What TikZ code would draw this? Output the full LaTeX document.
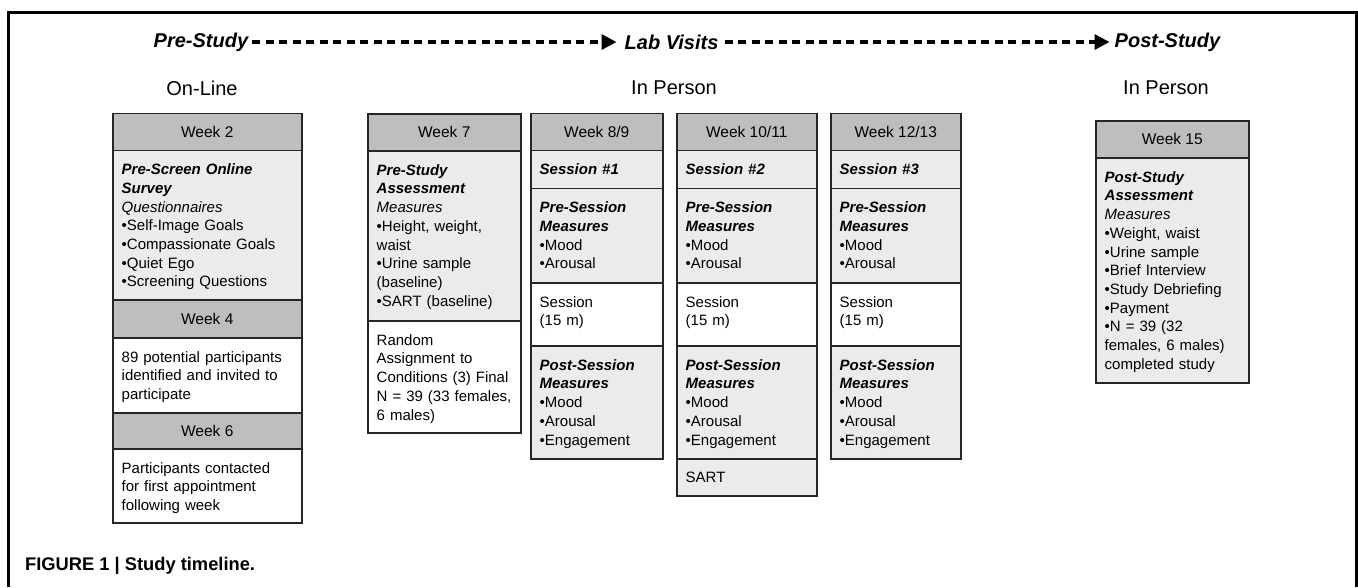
\documentclass[tikz,border=0pt]{standalone}
\usepackage{fontspec}
\setmainfont{Liberation Sans}
\usetikzlibrary{arrows.meta}
\definecolor{hdr}{HTML}{BEBEBE}
\definecolor{lite}{HTML}{EBEBEB}
\definecolor{edgec}{HTML}{262626}
\newcommand\bitx[1]{{\bfseries\itshape #1}}
\newcommand\itx[1]{{\itshape #1}}
\tikzset{
  cellbase/.style={draw=edgec, line width=1.5pt, inner sep=0pt, anchor=north west},
  hcell/.style={cellbase, fill=hdr},
  gcell/.style={cellbase, fill=lite},
  wcell/.style={cellbase, fill=white},
  btext/.style={inner sep=0pt, anchor=north west, align=left, text width=220pt,
    font=\fontsize{15}{18.7}\selectfont},
  htext/.style={inner sep=0pt, anchor=center, font=\fontsize{15.5}{18}\selectfont},
  phase/.style={inner sep=0pt, anchor=west, font=\fontsize{20}{24}\selectfont\bfseries\itshape},
  mode/.style={inner sep=0pt, anchor=center, font=\fontsize{20}{24}\selectfont},
  flow/.style={line width=3.4pt, dash pattern=on 8pt off 5.5pt, -{Triangle[length=15pt,width=15pt]}},
}
\newcommand\cellat[6]{%
  \pgfmathsetmacro\cw{#4-#2}\pgfmathsetmacro\ch{#5-#3}%
  \node[#6, minimum width=\cw pt, minimum height=\ch pt] (#1) at (#2,#3) {};}
\newcommand\htx[3]{\node[htext] (#1) at (#2.center) {#3};}
\newcommand\btx[3]{\node[btext] (#1) at ([xshift=9.5pt,yshift=-14.2pt]#2.north west) {#3};}
\newcommand\sesscol[5]{%
  \cellat{#1h}{#2}{112.5}{#3}{149.5}{hcell}
  \cellat{#1s}{#2}{149.5}{#3}{187.5}{gcell}
  \cellat{#1p}{#2}{187.5}{#3}{282}{gcell}
  \cellat{#1m}{#2}{282}{#3}{345}{wcell}
  \cellat{#1q}{#2}{345}{#3}{458}{gcell}
  \htx{#1ht}{#1h}{#4}
  \btx{#1st}{#1s}{\bitx{Session \##5}}
  \btx{#1pt}{#1p}{\bitx{Pre-Session\\Measures}\\•Mood\\•Arousal}
  \btx{#1mt}{#1m}{Session\\(15 m)}
  \btx{#1qt}{#1q}{\bitx{Post-Session\\Measures}\\•Mood\\•Arousal\\•Engagement}
}
\begin{document}
\begin{tikzpicture}[x=1pt,y=-1pt]
\useasboundingbox (0,0) rectangle (1358,587);
% frame
\draw[line width=2.6pt] (8.5,587) -- (8.5,12.5) -- (1356.5,12.5) -- (1356.5,587);

% phases
\node[phase] (pre) at (153.5,42) {Pre-Study};
\node[phase] (lab) at (624.5,42) {Lab Visits};
\node[phase] (post) at (1114.5,42) {Post-Study};
\draw[flow] ([xshift=4pt]pre.east) -- ([xshift=-8pt]lab.west);
\draw[flow] ([xshift=6pt]lab.east) -- ([xshift=-5pt]post.west);

\node[mode] (online) at (202,88) {On-Line};
\node[mode] (inperson) at (674,88) {In Person};
\node[mode] (inperson2) at (1166,88) {In Person};

% column 1
\cellat{w2h}{112}{112.5}{301}{149.5}{hcell}
\cellat{w2b}{112}{149.5}{301}{299}{gcell}
\cellat{w4h}{112}{299}{301}{337}{hcell}
\cellat{w4b}{112}{337}{301}{412}{wcell}
\cellat{w6h}{112}{412}{301}{448}{hcell}
\cellat{w6b}{112}{448}{301}{522}{wcell}
\htx{w2ht}{w2h}{Week 2}
\btx{w2bt}{w2b}{\bitx{Pre-Screen Online\\Survey}\\\itx{Questionnaires}\\•Self-Image Goals\\•Compassionate Goals\\•Quiet Ego\\•Screening Questions}
\htx{w4ht}{w4h}{Week 4}
\btx{w4bt}{w4b}{89 potential participants\\identified and invited to\\participate}
\htx{w6ht}{w6h}{Week 6}
\btx{w6bt}{w6b}{Participants contacted\\for first appointment\\following week}

% column 2
\cellat{w7h}{367}{113}{520}{150}{hcell}
\cellat{w7b}{367}{150}{520}{320}{gcell}
\cellat{w7c}{367}{320}{520}{432}{wcell}
\htx{w7ht}{w7h}{Week 7}
\btx{w7bt}{w7b}{\bitx{Pre-Study\\Assessment}\\\itx{Measures}\\•Height, weight,\\waist\\•Urine sample\\(baseline)\\•SART (baseline)}
\btx{w7ct}{w7c}{Random\\Assignment to\\Conditions (3) Final\\N = 39 (33 females,\\6 males)}

% session columns
\sesscol{sa}{530}{662}{Week 8/9}{1}
\sesscol{sb}{676}{816}{Week 10/11}{2}
\cellat{sbx}{676}{458}{816}{495}{gcell}
\btx{sbxt}{sbx}{SART}
\sesscol{sc}{830}{960}{Week 12/13}{3}

% column 6
\cellat{w15h}{1095}{120}{1248}{157}{hcell}
\cellat{w15b}{1095}{157}{1248}{382}{gcell}
\htx{w15ht}{w15h}{Week 15}
\btx{w15bt}{w15b}{\bitx{Post-Study\\Assessment}\\\itx{Measures}\\•Weight, waist\\•Urine sample\\•Brief Interview\\•Study Debriefing\\•Payment\\•N = 39 (32\\females, 6 males)\\completed study}

% caption
\node[inner sep=0pt, anchor=west, font=\fontsize{18.3}{21}\selectfont\bfseries] (cap) at (25,566) {FIGURE 1 | Study timeline.};
\end{tikzpicture}
\end{document}
